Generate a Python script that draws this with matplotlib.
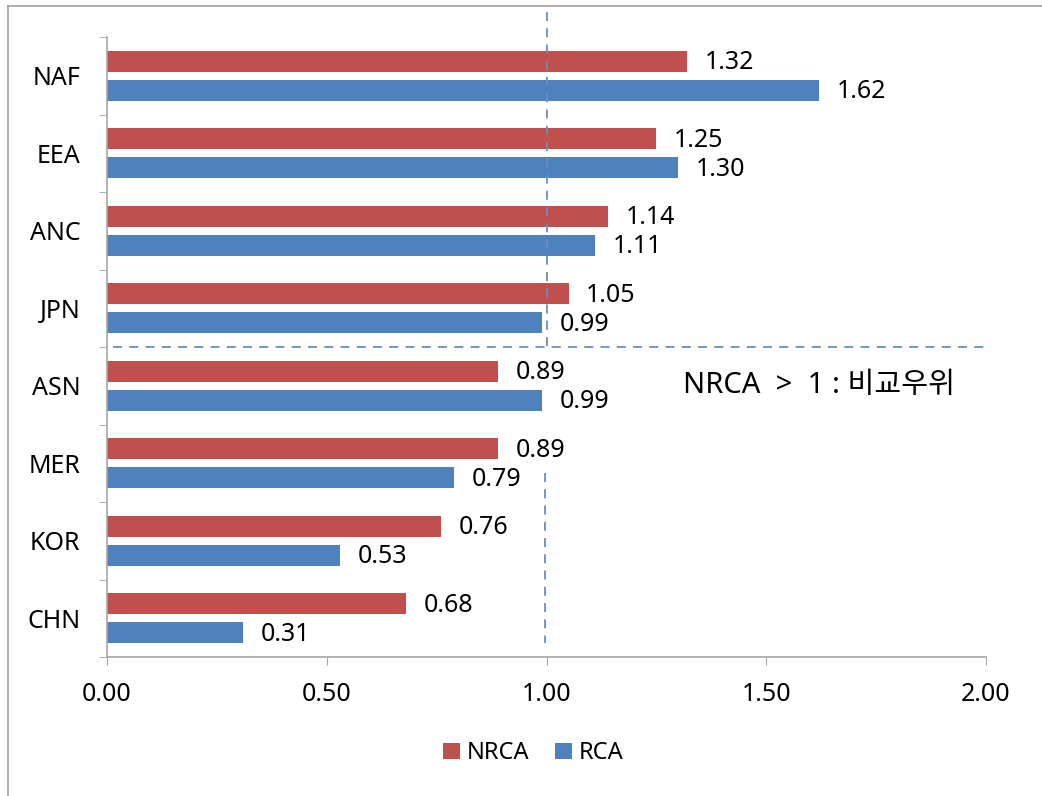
import numpy as np
import matplotlib.pyplot as plt
from matplotlib.lines import Line2D

plt.rcParams['font.family'] = ['Noto Sans', 'Noto Sans CJK KR', 'DejaVu Sans']

# --- data ---
regions = ["NAF", "EEA", "ANC", "JPN", "ASN", "MER", "KOR", "CHN"]
nrca = [1.32, 1.25, 1.14, 1.05, 0.89, 0.89, 0.76, 0.68]
rca = [1.62, 1.30, 1.11, 0.99, 0.99, 0.79, 0.53, 0.31]
x_ticks = [0.0, 0.5, 1.0, 1.5, 2.0]
note = "NRCA  >  1 : 비교우위"

red = "#C0504D"
blue = "#4F81BD"
axis_gray = "#A6A6A6"
dash_col = "#6A8DC0"

fig = plt.figure(figsize=(10.42, 7.96), dpi=100)
ax = fig.add_axes([0.1027, 0.1746, 0.8436, 0.7789])

y = np.arange(len(regions))
h = 0.27
off = 0.185
ax.barh(y - off, nrca, height=h, color=red, label="NRCA")
ax.barh(y + off, rca, height=h, color=blue, label="RCA")

fs = 18
for yi, v in zip(y, nrca):
    ax.text(v + 0.04, yi - off + 0.02, f"{v:.2f}", va="center", ha="left", fontsize=fs)
for yi, v in zip(y, rca):
    ax.text(v + 0.04, yi + off + 0.02, f"{v:.2f}", va="center", ha="left", fontsize=fs)

ax.set_xlim(0, 2.0)
ax.set_ylim(len(regions) - 0.5, -0.5)

ax.set_xticks(x_ticks)
ax.set_xticklabels([f"{t:.2f}" for t in x_ticks], fontsize=fs)
ax.set_yticks(y)
ax.set_yticklabels(regions, fontsize=fs)
ax.set_yticks(np.arange(len(regions) + 1) - 0.5, minor=True)
ax.tick_params(axis="y", which="major", length=0, pad=19)
ax.tick_params(axis="y", which="minor", length=6, color=axis_gray, direction="out")
ax.tick_params(axis="x", length=6, color=axis_gray, direction="out", pad=12)

for side in ["top", "right"]:
    ax.spines[side].set_visible(False)
for side in ["left", "bottom"]:
    ax.spines[side].set_color(axis_gray)
    ax.spines[side].set_linewidth(1.2)

# threshold guides: NRCA = 1 and the split between advantage / no advantage
ax.plot([1.0, 1.0], [-0.82, 3.55], ls=(0, (5, 4)), color=dash_col, lw=1.3, clip_on=False)
ax.plot([0.997, 0.997], [5.13, 7.32], ls=(0, (5, 4)), color=dash_col, lw=1.3, clip_on=False)
ax.plot([0.014, 1.998], [3.5, 3.5], ls=(0, (5, 4)), color=dash_col, lw=1.3, clip_on=False)

ax.text(1.31, 4.0, note, fontsize=21, va="center", ha="left")

ax.legend(loc="center", bbox_to_anchor=(0.485, -0.155), ncol=2, frameon=False,
          fontsize=17, handlelength=0.7, handleheight=0.7, handletextpad=0.3,
          columnspacing=1.1)

# thin frame along the top and left edges
fig.add_artist(Line2D([8 / 1042, 1.0], [1 - 6 / 796, 1 - 6 / 796], color="#A0A0A0", lw=1.2))
fig.add_artist(Line2D([8 / 1042, 8 / 1042], [0.0, 1 - 6 / 796], color="#A0A0A0", lw=1.2))

fig.savefig("out.png", dpi=100)
